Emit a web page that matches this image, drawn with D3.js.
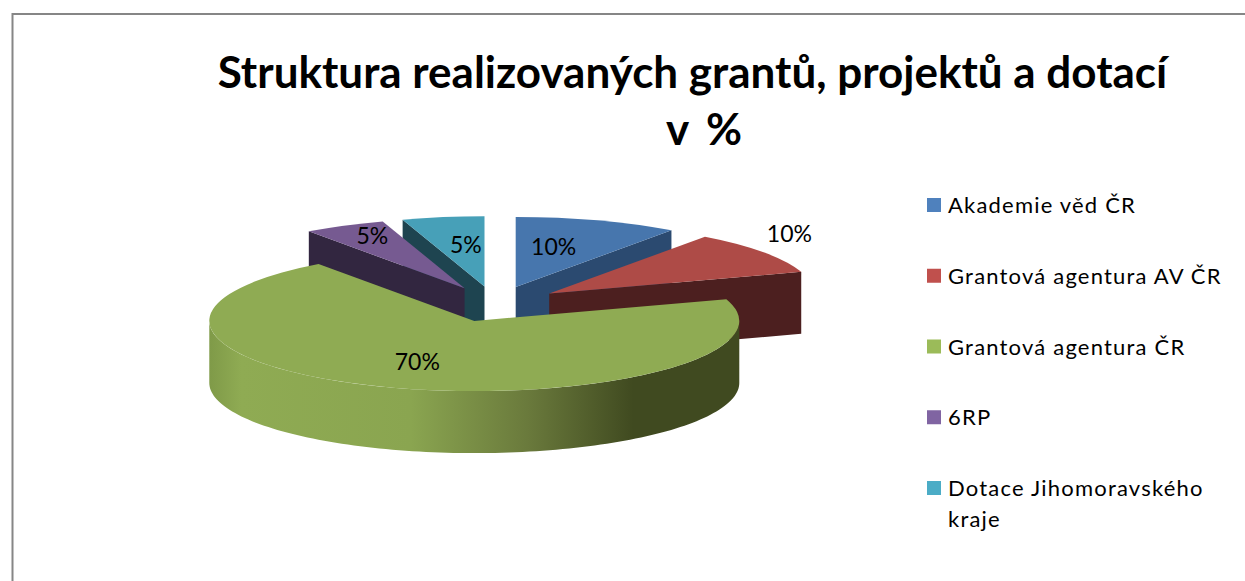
<!DOCTYPE html>
<html><head><meta charset="utf-8">
<style>html,body{margin:0;padding:0;background:#fff;overflow:hidden}svg{display:block}text{font-family:Lato,"Noto Sans",sans-serif;fill:#000}</style>
<script src="https://cdn.jsdelivr.net/npm/d3@7"></script>
</head><body>
<script>
const categories = ["Akademie věd ČR","Grantová agentura AV ČR","Grantová agentura ČR","6RP","Dotace Jihomoravského kraje"];
const values = [10,10,70,5,5];
const titleLines = ["Struktura realizovaných grantů, projektů a dotací","v %"];

const W=1245,H=581;
const cx=495,cy=304,R=265,tilt=0.265,depth=62,explode=67;
const topColors=["#4776ad","#ae4b47","#8fab53","#765a91","#47a0b8"];
const sideColors=["#2b4a70","#4c1f1f","#404a20","#322640","#1e4450"];
const swatch=["#4f81bd","#c0504d","#9bbb59","#8064a2","#4bacc6"];
const labelNudge=[[-3,1],[133,-31],[-16,16],[-32,-13],[2,1]];

const svg=d3.select("body").append("svg").attr("width",W).attr("height",H);
const defs=svg.append("defs");
const grad=defs.append("linearGradient").attr("id","wall").attr("gradientUnits","userSpaceOnUse")
 .attr("x1",-R).attr("x2",R).attr("y1",0).attr("y2",0);
[[0,"#7f9a48"],[0.06,"#8fab53"],[0.38,"#8aa550"],[0.6,"#6a7a3c"],[0.8,"#404a20"],[1,"#404a20"]]
 .forEach(([o,c])=>grad.append("stop").attr("offset",o).attr("stop-color",c));

// frame
svg.append("path").attr("d",d3.line()([[12.5,H],[12.5,14],[W,14]])).attr("fill","none").attr("stroke","#868686").attr("stroke-width",2);

const pie=d3.pie().sort(null).value(d=>d);
const arcs=pie(values);
const ex=d3.scaleLinear().domain([-1,1]).range([-R,R]);
const ey=d3.scaleLinear().domain([-1,1]).range([-R*tilt,R*tilt]);
const arcGen=d3.arc().innerRadius(0).outerRadius(R);
const order=[4,3,0,1,2];

order.forEach(i=>{
  const a=arcs[i];
  const mid=(a.startAngle+a.endAngle)/2;
  const ox=cx+Math.sin(mid)*explode, oy=cy-Math.cos(mid)*explode*tilt;
  const g=svg.append("g").attr("transform",`translate(${ox},${oy})`);
  const px=t=>ex(Math.sin(t)), py=t=>ey(-Math.cos(t));
  // cut faces facing the viewer
  [a.startAngle,a.endAngle].forEach((t,k)=>{
    const showEnd = i<2 && k===1;
    const showStart = i>=3 && k===0;
    if(showEnd||showStart){
      g.append("path").attr("fill",sideColors[i]).attr("d",
        d3.line()([[0,0],[px(t),py(t)],[px(t),py(t)+depth],[0,depth]])+"Z");
    }
  });
  // outer wall (front half only)
  const lo=Math.max(a.startAngle,Math.PI/2), hi=Math.min(a.endAngle,Math.PI*1.5);
  if(hi>lo){
    const ts=d3.range(0,121).map(j=>lo+(hi-lo)*j/120);
    g.append("path").attr("fill",i===2?"url(#wall)":sideColors[i]).attr("d",
      d3.area().x(px).y0(py).y1(t=>py(t)+depth)(ts));
  }
  // top face
  g.append("path").attr("transform",`scale(1,${tilt})`).attr("fill",topColors[i]).attr("d",arcGen(a));
});

// data labels
arcs.forEach((a,i)=>{
  const mid=(a.startAngle+a.endAngle)/2;
  const ox=cx+Math.sin(mid)*explode, oy=cy-Math.cos(mid)*explode*tilt;
  const [cxx,cyy]=arcGen.centroid(a);
  svg.append("text").attr("x",ox+cxx+labelNudge[i][0]).attr("y",oy+cyy*tilt+labelNudge[i][1])
    .attr("text-anchor","middle").attr("font-size",23).text(values[i]+"%");
});

// title
titleLines.forEach((t,i)=>svg.append("text").attr("x",i?704:692.5).attr("y",88+i*57)
  .attr("text-anchor","middle").attr("font-size",44).attr("font-weight",700)
  .attr("word-spacing",i?7:0).text(t));

// legend
const legY=d3.scalePoint().domain(categories).range([205,488]);
categories.forEach((c,i)=>{
  const y=legY(c);
  svg.append("rect").attr("x",927).attr("y",y-7).attr("width",14).attr("height",14).attr("fill",swatch[i]);
  const parts = i===4 ? ["Dotace Jihomoravského","kraje"] : [c];
  parts.forEach((p,j)=>svg.append("text").attr("x",948).attr("y",y+8+j*31).attr("font-size",22).attr("letter-spacing",1.2).text(p));
});
</script>
</body></html>
